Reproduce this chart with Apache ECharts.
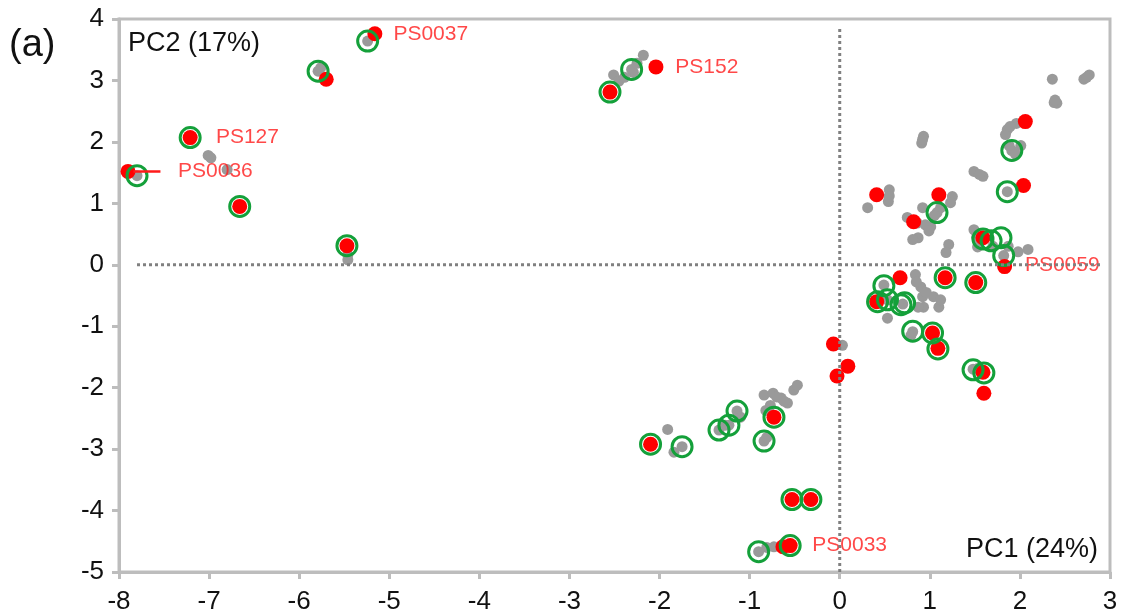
<!DOCTYPE html>
<html>
<head>
<meta charset="utf-8">
<script src="https://cdn.jsdelivr.net/npm/echarts@6/dist/echarts.min.js"></script>
<style>
  html, body { margin: 0; padding: 0; background: #fff; }
  #chart { width: 1121px; height: 615px; }
</style>
</head>
<body>
<div id="chart"></div>
<script>
// PCA scores: [PC1, PC2]
const greyPoints = [
  [-5.24, 3.64], [-5.79, 3.15], [-5.76, 3.21], [-7.01, 1.78], [-6.98, 1.74], [-6.80, 1.55], [-7.80, 1.45],
  [-5.46, 0.16], [-5.46, 0.08],
  [-2.18, 3.41], [-2.29, 3.13], [-2.31, 3.18], [-2.25, 3.28], [-2.51, 3.09], [-2.45, 2.99], [-2.39, 3.05],
  [2.36, 3.02], [2.71, 3.02], [2.77, 3.09], [2.74, 3.05], [2.38, 2.64], [2.41, 2.63], [2.39, 2.68],
  [1.86, 2.20], [1.84, 2.12], [1.96, 2.30], [1.89, 2.25], [1.91, 1.86], [2.01, 1.94], [1.88, 1.94], [1.95, 1.80],
  [1.49, 1.52], [1.59, 1.44], [1.55, 1.47], [1.86, 1.19], [0.93, 2.09], [0.91, 1.98], [0.92, 2.04],
  [0.55, 1.22], [0.54, 1.03], [0.55, 1.12], [0.31, 0.93], [1.25, 1.11], [1.23, 1.01], [1.08, 0.85], [1.12, 0.93],
  [0.92, 0.93], [0.75, 0.77], [0.87, 0.44], [0.81, 0.41], [1.01, 0.62], [0.95, 0.65], [0.80, 0.72],
  [0.86, 0.68], [1.05, 0.80], [0.99, 0.55],
  [1.21, 0.33], [1.18, 0.20], [1.49, 0.57], [1.53, 0.29], [1.52, 0.45], [1.98, 0.21], [2.09, 0.25],
  [1.59, 0.42], [1.82, 0.15], [1.87, 0.30], [1.70, 0.30],
  [0.84, -0.16], [0.90, -0.36], [0.92, -0.52], [1.04, -0.52], [1.10, -0.69], [0.93, -0.69],
  [0.87, -0.69], [1.12, -0.57], [0.96, -0.45], [0.85, -0.28], [0.53, -0.87], [0.81, -1.09], [0.79, -1.15],
  [1.48, -1.70], [1.53, -1.69], [0.03, -1.31], [0.49, -0.33], [0.53, -0.57], [0.70, -0.64],
  [-1.91, -2.68], [-1.75, -2.96], [-1.84, -3.05], [-1.34, -2.69], [-1.23, -2.61], [-1.14, -2.38],
  [-1.10, -2.48], [-1.27, -2.61], [-0.84, -2.87], [-0.81, -2.81],
  [-0.84, -2.12], [-0.74, -2.09], [-0.65, -2.17], [-0.58, -2.25], [-0.77, -2.29], [-0.82, -2.37],
  [-0.70, -2.15], [-0.62, -2.22], [-0.51, -2.04], [-0.47, -1.96],
  [-0.73, -4.59], [-0.90, -4.67], [-0.81, -4.60]
];

const redPoints = [
  [-5.16, 3.76], [-5.70, 3.02], [-7.21, 2.07], [-7.90, 1.52], [-6.66, 0.95], [-5.47, 0.31],
  [-2.55, 2.81], [-2.04, 3.22],
  [2.06, 2.33], [2.04, 1.29], [0.41, 1.14], [1.10, 1.14], [0.82, 0.70], [1.59, 0.44],
  [1.83, -0.03], [1.17, -0.21], [1.51, -0.29], [0.67, -0.21], [0.41, -0.60],
  [1.03, -1.11], [1.09, -1.36], [1.59, -1.75], [1.60, -2.09],
  [-0.07, -1.29], [0.09, -1.65], [-0.03, -1.81],
  [-2.10, -2.92], [-0.73, -2.48], [-0.53, -3.82], [-0.32, -3.82], [-0.55, -4.57], [-0.63, -4.59]
];

const ringPoints = [
  [-5.24, 3.64], [-5.79, 3.15], [-7.21, 2.07], [-7.80, 1.45], [-6.66, 0.95], [-5.47, 0.31],
  [-2.55, 2.81], [-2.31, 3.18],
  [1.91, 1.86], [1.86, 1.19], [1.08, 0.85], [1.59, 0.42], [1.68, 0.39], [1.79, 0.44], [1.82, 0.15],
  [1.17, -0.21], [1.51, -0.29], [0.49, -0.34], [0.42, -0.60], [0.53, -0.57], [0.68, -0.65], [0.72, -0.62],
  [0.81, -1.08], [1.03, -1.11], [1.09, -1.37], [1.48, -1.71], [1.60, -1.76],
  [-2.10, -2.92], [-1.75, -2.96], [-1.34, -2.69], [-1.23, -2.61], [-1.14, -2.38],
  [-0.84, -2.87], [-0.73, -2.48], [-0.53, -3.82], [-0.32, -3.82], [-0.55, -4.57], [-0.90, -4.67]
];

// sample labels: [name, PC1, PC2] (left edge of the text)
const sampleLabels = [
  ['PS0037', -4.96, 3.76],
  ['PS152', -1.83, 3.22],
  ['PS127', -6.93, 2.08],
  ['PS0036', -7.35, 1.52],
  ['PS0059', 2.05, 0.0],
  ['PS0033', -0.31, -4.57]
];
const leaderPS0036 = [[-7.84, 1.52], [-7.54, 1.52]];

// dotted zero lines
const zeroLineH = [[-7.8, 0], [2.9, 0]];
const zeroLineV = [[0, -5], [0, 3.85]];

const xTicks = { min: -8, max: 3, step: 1 };
const yTicks = { min: -5, max: 4, step: 1 };

const chart = echarts.init(document.getElementById('chart'), null, { renderer: 'canvas' });

const font = 'Liberation Sans, Arial, sans-serif';
const dotted = { color: '#808080', width: 3, type: [3, 3] };

chart.setOption({
  animation: false,
  backgroundColor: '#fff',
  textStyle: { fontFamily: font },
  grid: {
    left: 119, right: 11, top: 19, bottom: 43,
    show: true, borderColor: '#bdbdbd', borderWidth: 3
  },
  xAxis: {
    type: 'value', min: xTicks.min, max: xTicks.max, interval: xTicks.step,
    axisLine: { onZero: false, lineStyle: { color: '#bdbdbd', width: 3 } },
    axisTick: { show: true, length: 7, lineStyle: { color: '#bdbdbd', width: 3 } },
    axisLabel: { color: '#111', fontSize: 26, margin: 17 },
    splitLine: { show: false }
  },
  yAxis: {
    type: 'value', min: yTicks.min, max: yTicks.max, interval: yTicks.step,
    axisLine: { onZero: false, lineStyle: { color: '#bdbdbd', width: 3 } },
    axisTick: { show: true, length: 7, lineStyle: { color: '#bdbdbd', width: 3 } },
    axisLabel: { color: '#111', fontSize: 26, margin: 15 },
    splitLine: { show: false }
  },
  graphic: [
    { type: 'text', x: 9, y: 46, style: { text: '(a)', fontSize: 38, fill: '#111', textVerticalAlign: 'middle', fontFamily: font } },
    { type: 'text', x: 128, y: 44, style: { text: 'PC2 (17%)', fontSize: 27, fill: '#111', textVerticalAlign: 'middle', fontFamily: font } },
    { type: 'text', x: 1098, y: 550, style: { text: 'PC1 (24%)', fontSize: 27, fill: '#111', textAlign: 'right', textVerticalAlign: 'middle', fontFamily: font } }
  ],
  series: [
    { type: 'line', data: zeroLineH, symbol: 'none', lineStyle: dotted, silent: true },
    { type: 'line', data: zeroLineV, symbol: 'none', lineStyle: dotted, silent: true },
    { type: 'line', data: leaderPS0036, symbol: 'none', lineStyle: { color: '#ff1a1a', width: 2.5 }, silent: true },
    {
      name: 'all', type: 'scatter', data: greyPoints, symbolSize: 11,
      itemStyle: { color: '#9a9a9a', opacity: 1 }
    },
    {
      name: 'selected', type: 'scatter', data: redPoints, symbolSize: 15,
      itemStyle: { color: '#ff0000', opacity: 1 }
    },
    {
      name: 'matched', type: 'scatter', data: ringPoints, symbolSize: 20,
      itemStyle: { color: 'rgba(0,0,0,0)', borderColor: '#14a03a', borderWidth: 3, opacity: 1 }
    },
    {
      name: 'labels', type: 'scatter', symbolSize: 1,
      data: sampleLabels.map(d => ({ name: d[0], value: [d[1], d[2]] })),
      itemStyle: { color: 'rgba(0,0,0,0)' },
      label: {
        show: true, position: 'right', distance: 0,
        formatter: p => p.name, color: '#ff1a1a', fontSize: 21
      }
    }
  ]
});
</script>
</body>
</html>
